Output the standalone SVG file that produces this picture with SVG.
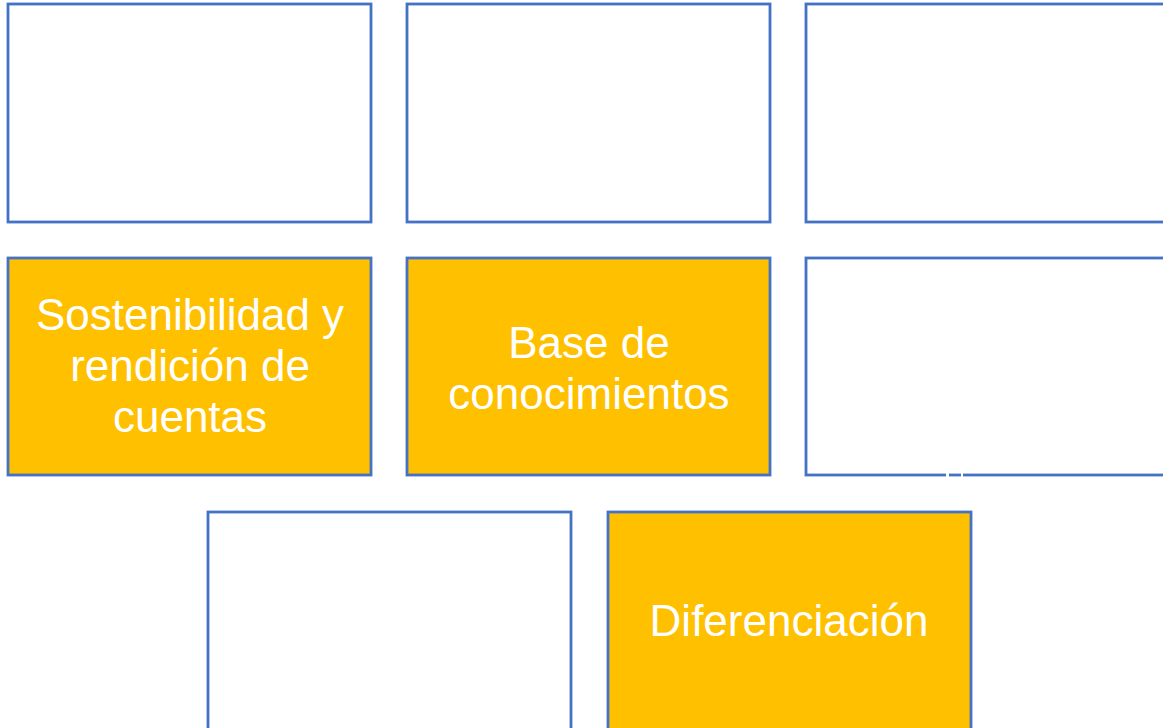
<svg xmlns="http://www.w3.org/2000/svg" width="1163" height="728" viewBox="0 0 1163 728">
  <style>
    .box { fill: #FFFFFF; stroke: #4472C4; stroke-width: 2.8; }
    .gold { fill: #FFC000; }
    .label { font-family: "Liberation Sans", Arial, sans-serif; font-size: 44px; fill: #FFFFFF; text-anchor: middle; }
  </style>
  <rect width="1163" height="728" fill="#FFFFFF"/>
  <g id="node-r1c1"><rect class="box" x="8" y="4" width="363" height="218"/></g>
  <g id="node-r1c2"><rect class="box" x="407" y="4" width="363" height="218"/></g>
  <g id="node-r1c3"><rect class="box" x="806" y="4" width="363" height="218"/></g>
  <g id="node-sostenibilidad">
    <rect class="box gold" x="8" y="258" width="363" height="217"/>
    <text class="label" x="190" y="330">Sostenibilidad y</text>
    <text class="label" x="190" y="381">rendición de</text>
    <text class="label" x="190" y="432">cuentas</text>
  </g>
  <g id="node-base">
    <rect class="box gold" x="407" y="258" width="363" height="217"/>
    <text class="label" x="589" y="358">Base de</text>
    <text class="label" x="589" y="409">conocimientos</text>
  </g>
  <g id="node-r2c3">
    <rect class="box" x="806" y="258" width="363" height="217"/>
    <rect x="946" y="472" width="3" height="6" fill="#FFFFFF"/>
    <rect x="961" y="472" width="2" height="6" fill="#FFFFFF"/>
  </g>
  <g id="node-r3c1"><rect class="box" x="208" y="512" width="363" height="220"/></g>
  <g id="node-diferenciacion">
    <rect class="box gold" x="608" y="512" width="363" height="220"/>
    <text class="label" x="789" y="636">Diferenciación</text>
  </g>
  <g id="connectors"></g>
</svg>
